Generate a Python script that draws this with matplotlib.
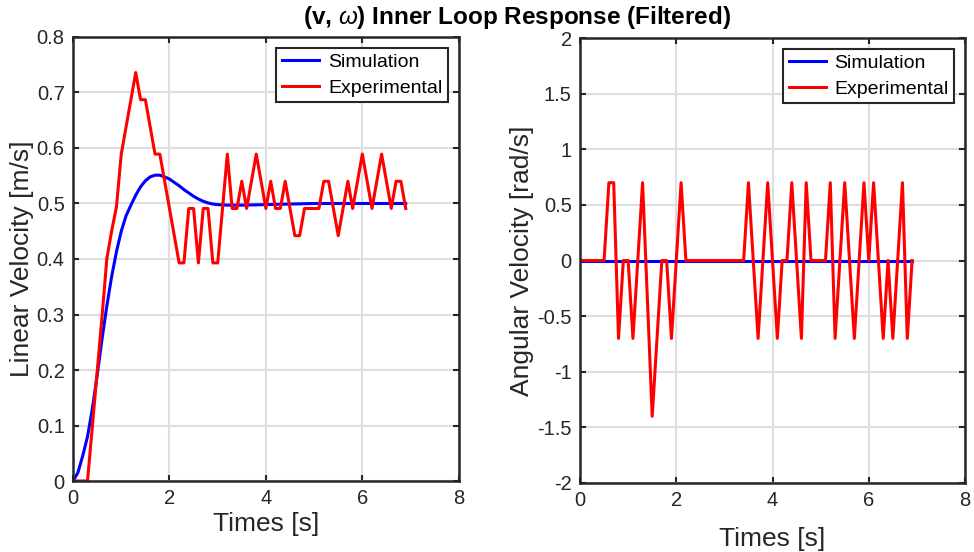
import numpy as np
import matplotlib
matplotlib.use("Agg")
import matplotlib.pyplot as plt
from matplotlib.ticker import FuncFormatter

plt.rcParams['font.family'] = ['Liberation Sans', 'DejaVu Sans']
plt.rcParams['axes.unicode_minus'] = False
plt.rcParams['mathtext.fontset'] = 'custom'
plt.rcParams['mathtext.it'] = 'Liberation Sans:italic'

# simulated linear velocity (step response of the inner loop)
sim_t = [0.0, 0.1, 0.2, 0.3, 0.4, 0.5, 0.6, 0.7, 0.8, 0.9, 1.0, 1.1, 1.2, 1.3,
         1.4, 1.5, 1.6, 1.7, 1.8, 1.9, 2.0, 2.1, 2.2, 2.3, 2.4, 2.5, 2.6, 2.7,
         2.8, 2.9, 3.0, 3.2, 3.5, 4.0, 4.5, 5.0, 6.0, 6.9]
sim_v = [0.0, 0.015, 0.045, 0.08, 0.13, 0.19, 0.255, 0.315, 0.368, 0.413, 0.45,
         0.478, 0.497, 0.515, 0.53, 0.541, 0.548, 0.551, 0.551, 0.548, 0.544,
         0.538, 0.532, 0.525, 0.519, 0.513, 0.508, 0.504, 0.501, 0.499, 0.498,
         0.497, 0.497, 0.498, 0.499, 0.5, 0.5, 0.5]
sim_w_t = [0.0, 6.9]
sim_w = [0.0, 0.0]

# measured linear velocity
exp_v_t = [0.0, 0.3, 0.4, 0.5, 0.6, 0.7, 0.8, 0.9, 1.0, 1.1, 1.2, 1.3, 1.4, 1.5,
           1.6, 1.7, 1.8, 1.9, 2.0, 2.1, 2.2, 2.3, 2.4, 2.5, 2.6, 2.7, 2.8, 2.9,
           3.0, 3.1, 3.2, 3.3, 3.4, 3.5, 3.6, 3.8, 4.0, 4.1, 4.2, 4.3, 4.4, 4.6,
           4.7, 4.8, 5.1, 5.2, 5.3, 5.5, 5.7, 5.8, 6.0, 6.2, 6.4, 6.6, 6.7, 6.8,
           6.9]
exp_v = [0.0, 0.0, 0.098, 0.197, 0.295, 0.40, 0.45, 0.494, 0.589, 0.638, 0.687,
         0.736, 0.687, 0.687, 0.638, 0.589, 0.589, 0.54, 0.491, 0.442, 0.393,
         0.393, 0.491, 0.491, 0.393, 0.491, 0.491, 0.393, 0.393, 0.491, 0.589,
         0.491, 0.491, 0.54, 0.491, 0.589, 0.491, 0.54, 0.491, 0.491, 0.54,
         0.442, 0.442, 0.491, 0.491, 0.54, 0.54, 0.442, 0.54, 0.491, 0.589,
         0.491, 0.589, 0.491, 0.54, 0.54, 0.491]

# measured angular velocity
exp_w_t = [0.0, 0.5, 0.6, 0.7, 0.8, 0.9, 1.0, 1.1, 1.3, 1.5, 1.7, 1.8, 1.9, 2.1,
           2.2, 3.4, 3.5, 3.7, 3.9, 4.1, 4.2, 4.3, 4.4, 4.6, 4.7, 4.8, 5.1, 5.2,
           5.3, 5.5, 5.7, 5.9, 6.0, 6.1, 6.3, 6.4, 6.5, 6.7, 6.8, 6.9]
exp_w = [0.0, 0.0, 0.7, 0.7, -0.7, 0.0, 0.0, -0.7, 0.7, -1.4, 0.0, 0.0, -0.7,
         0.7, 0.0, 0.0, 0.7, -0.7, 0.7, -0.7, 0.0, 0.0, 0.7, -0.7, 0.7, 0.0,
         0.0, 0.7, -0.7, 0.7, -0.7, 0.7, 0.0, 0.7, -0.7, 0.0, -0.7, 0.7, -0.7,
         0.0]

frame_col = '#262626'
grid_col = '#dedede'


def style_axes(ax):
    ax.grid(True, color=grid_col, linewidth=1.5)
    ax.set_axisbelow(True)
    for sp in ax.spines.values():
        sp.set_color(frame_col)
        sp.set_linewidth(1.8)
    ax.tick_params(direction='in', length=4, width=1.5, colors=frame_col,
                   top=True, right=True, labelsize=14.5, pad=6)


fig = plt.figure(figsize=(9.74, 5.52), dpi=100)
ax1 = fig.add_axes([0.075, 0.1286, 0.396, 0.8044])
ax2 = fig.add_axes([0.5955, 0.125, 0.3953, 0.806])

ax1.plot(sim_t, sim_v, color='#0000ff', linewidth=2.2, label='Simulation')
ax1.plot(exp_v_t, exp_v, color='#ff0000', linewidth=2.2, label='Experimental')
ax1.set_xlim(0, 8)
ax1.set_ylim(0, 0.8)
ax1.set_xticks(np.arange(0, 9, 2))
ax1.set_yticks(np.arange(0, 0.81, 0.1))
ax1.yaxis.set_major_formatter(FuncFormatter(lambda v, p: '%g' % round(v, 2)))
ax1.set_xlabel('Times [s]', fontsize=19, color='#262626')
ax1.set_ylabel('Linear Velocity [m/s]', fontsize=19, color='#262626')
ax1.xaxis.set_label_coords(0.5, -0.07)
ax1.yaxis.set_label_coords(-0.101, 0.5)
style_axes(ax1)

ax2.plot(sim_w_t, sim_w, color='#0000ff', linewidth=2.2, label='Simulation')
ax2.plot(exp_w_t, exp_w, color='#ff0000', linewidth=2.2, label='Experimental')
ax2.set_xlim(0, 8)
ax2.set_ylim(-2, 2)
ax2.set_xticks(np.arange(0, 9, 2))
ax2.set_yticks(np.arange(-2, 2.01, 0.5))
ax2.yaxis.set_major_formatter(FuncFormatter(lambda v, p: '%g' % round(v, 2)))
ax2.set_xlabel('Times [s]', fontsize=19, color='#262626')
ax2.set_ylabel('Angular Velocity [rad/s]', fontsize=19, color='#262626')
ax2.xaxis.set_label_coords(0.5, -0.1)
ax2.yaxis.set_label_coords(-0.119, 0.5)
style_axes(ax2)

for ax in (ax1, ax2):
    leg = ax.legend(loc='upper right', fontsize=14, frameon=True, fancybox=False,
                    borderpad=0.3, labelspacing=0.4, handlelength=1.9,
                    handletextpad=0.45, borderaxespad=0.55)
    leg.get_frame().set_edgecolor(frame_col)
    leg.get_frame().set_linewidth(1.5)
    leg.get_frame().set_alpha(1)

fig.text(0.531, 0.969, r'(v, $\omega$) Inner Loop Response (Filtered)',
         ha='center', va='center', fontsize=17.5, fontweight='bold')

fig.savefig('out.png', dpi=100)
